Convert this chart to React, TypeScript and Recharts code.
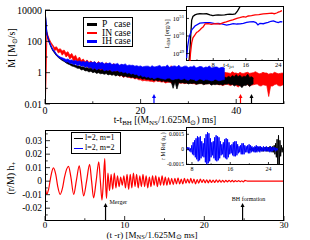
import React from "react";
import { ComposedChart, LineChart, Line, Area, XAxis, YAxis, Legend, ReferenceDot } from "recharts";

const W = 310;
const H = 240;
const SERIF = "'Liberation Serif', 'Times New Roman', Times, serif";
const AXIS_W = 30;
const AXIS_H = 14;

// ---- top panel: accretion rate onto the BH (upper / lower edge of the noisy trace),
// sampled every 0.4 from t - t_BH = 0
const mdotStep = 0.4;
const pHi = [
  10500, 300, 108, 54, 30, 20.5, 14, 10.8, 8.6, 7,
  6.2, 5.2, 4.6, 4.1, 3.6, 3.3, 3.0, 2.7, 2.7, 2.3,
  2.4, 2.0, 2.1, 1.8, 2.0, 1.6, 1.8, 1.5, 1.7, 1.4,
  1.6, 1.35, 1.6, 1.3, 1.45, 1.2, 1.4, 1.15, 1.3, 1.15,
  1.3, 1.05, 1.2, 1.0, 1.1, 0.95, 1.05, 0.85, 1.0, 0.8,
  0.95, 0.72, 0.85, 0.7, 0.8, 0.66, 0.75, 0.62, 0.72, 0.6,
  0.72, 0.58, 0.66, 0.56, 0.62, 0.54, 0.6, 0.5, 0.55, 0.48,
  0.58, 0.5, 0.55, 0.5, 0.58, 0.46, 0.52, 0.48, 0.55, 0.45,
  0.5, 0.47, 0.52, 0.44, 0.48, 0.46, 0.52, 0.42, 0.48, 0.45,
  0.52, 0.44, 0.5, 0.42, 0.52, 0.48, 0.58, 0.5, 0.65, 0.55,
  0.75, 0.55, 0.68, 0.5, 0.6, 0.55, 0.8, 0.5, 0.55, 0.45,
];
const pLo = [
  9000, 260, 92, 46, 26, 17.5, 12, 9.2, 7.4, 6,
  5.2, 4.2, 3.6, 3.2, 2.7, 2.5, 2.2, 1.9, 1.9, 1.5,
  1.6, 1.3, 1.35, 1.1, 1.25, 1.0, 1.1, 0.9, 1.0, 0.85,
  0.9, 0.78, 0.88, 0.72, 0.8, 0.68, 0.75, 0.62, 0.7, 0.62,
  0.68, 0.55, 0.62, 0.52, 0.56, 0.5, 0.52, 0.44, 0.5, 0.42,
  0.46, 0.38, 0.42, 0.36, 0.38, 0.34, 0.36, 0.3, 0.35, 0.29,
  0.33, 0.27, 0.3, 0.26, 0.28, 0.25, 0.26, 0.1, 0.25, 0.09,
  0.24, 0.22, 0.23, 0.21, 0.22, 0.19, 0.21, 0.2, 0.22, 0.18,
  0.19, 0.2, 0.2, 0.17, 0.19, 0.19, 0.2, 0.16, 0.18, 0.17,
  0.19, 0.17, 0.18, 0.16, 0.19, 0.18, 0.2, 0.17, 0.18, 0.14,
  0.17, 0.16, 0.15, 0.11, 0.16, 0.15, 0.18, 0.13, 0.17, 0.2,
];
const inHi = [
  0.002, 380, 165, 90, 60, 40, 45, 30, 34, 24,
  28, 18, 22, 13, 17, 10, 13, 7, 10, 6,
  7.5, 5, 6.5, 4.5, 5.5, 4.2, 5, 3.8, 5.2, 3.5,
  4, 3.4, 4.4, 3.1, 3.5, 3.0, 3.8, 2.8, 3.0, 2.6,
  3.3, 2.4, 2.7, 2.3, 2.4, 2.1, 2.7, 2.0, 2.2, 1.8,
  2.0, 1.7, 1.8, 1.6, 1.7, 1.5, 1.6, 1.4, 1.7, 1.4,
  1.5, 1.3, 1.5, 1.3, 1.35, 1.3, 2.8, 1.2, 1.3, 1.2,
  1.25, 1.15, 1.35, 1.1, 1.15, 1.2, 1.3, 1.1, 1.2, 1.05,
  1.1, 1.05, 1.25, 1.0, 1.0, 1.05, 1.15, 0.95, 1.05, 1.0,
  1.15, 0.95, 1.0, 0.9, 1.05, 1.0, 0.95, 0.9, 1.15, 0.95,
  0.95, 0.85, 1.05, 0.9, 0.9, 1.0, 1.05, 0.9, 0.95, 1.0,
  1.15, 1.0, 0.85, 0.9, 1.05, 0.95, 0.95, 0.8, 0.9, 0.85,
  1.05, 0.95, 0.85, 0.9, 0.95, 0.9,
];
const inLo = [
  0.001, 320, 135, 72, 48, 26, 30, 18, 22, 13,
  18, 10, 13, 7.5, 10, 5, 7, 4, 5.5, 3.2,
  3.5, 2.4, 2.8, 1.9, 2.2, 1.5, 1.8, 1.2, 1.6, 1.0,
  1.2, 1.0, 1.1, 0.85, 0.95, 0.8, 0.85, 0.7, 0.75, 0.6,
  0.65, 0.5, 0.58, 0.52, 0.5, 0.45, 0.48, 0.4, 0.42, 0.35,
  0.35, 0.3, 0.32, 0.3, 0.3, 0.28, 0.28, 0.25, 0.3, 0.28,
  0.27, 0.25, 0.26, 0.22, 0.24, 0.25, 0.22, 0.2, 0.23, 0.24,
  0.22, 0.21, 0.22, 0.2, 0.21, 0.23, 0.21, 0.2, 0.2, 0.18,
  0.2, 0.21, 0.2, 0.19, 0.19, 0.2, 0.2, 0.18, 0.19, 0.2,
  0.18, 0.17, 0.17, 0.15, 0.17, 0.19, 0.17, 0.15, 0.17, 0.18,
  0.15, 0.12, 0.15, 0.14, 0.16, 0.18, 0.17, 0.14, 0.16, 0.17,
  0.18, 0.19, 0.15, 0.14, 0.17, 0.16, 0.15, 0.03, 0.14, 0.14,
  0.17, 0.19, 0.15, 0.14, 0.16, 0.18,
];
const ihHi = [
  10500, 330, 120, 60, 33, 24, 15.5, 12, 10, 9,
  8, 7, 7.5, 6.2, 6.5, 5.6, 6, 5.2, 5.6, 4.8,
  5.2, 4.6, 5.6, 4.2, 4.8, 4.4, 5, 3.9, 4.4, 4.2,
  4.6, 3.6, 4.0, 3.8, 4.3, 3.3, 3.6, 3.5, 3.9, 3.0,
  3.4, 3.2, 3.6, 2.8, 3.1, 2.9, 3.0, 2.6, 2.8, 2.5,
  2.7, 2.3, 2.5, 2.6, 2.6, 2.2, 2.8, 2.3, 2.4, 2.6,
  2.9, 2.3, 2.5, 2.4, 3.1, 2.2, 2.4, 2.6, 2.7, 2.3,
  3.0, 2.2, 2.3, 2.6, 2.6, 2.1, 2.4, 2.3, 2.8, 2.0,
  2.2, 2.5, 2.4, 2.0, 2.3, 2.2, 2.7, 2.0, 2.1, 2.3,
  2.3, 1.9, 2.1, 2.2, 1.9,
];
const ihLo = [
  9000, 270, 100, 50, 27, 20, 13, 10, 8, 7,
  5.8, 4.6, 5, 3.8, 4, 3.2, 3.6, 2.8, 3.2, 2.6,
  2.8, 2.2, 2.6, 2.0, 2.3, 1.6, 2.0, 1.5, 1.8, 1.7,
  1.8, 1.3, 1.5, 1.4, 1.6, 1.2, 1.3, 1.3, 1.4, 1.1,
  1.2, 1.0, 1.1, 0.9, 1.0, 0.8, 0.9, 0.75, 0.8, 0.6,
  0.7, 0.55, 0.6, 0.5, 0.55, 0.45, 0.5, 0.4, 0.45, 0.5,
  0.45, 0.42, 0.4, 0.38, 0.44, 0.45, 0.38, 0.35, 0.4, 0.4,
  0.42, 0.36, 0.38, 0.42, 0.35, 0.33, 0.4, 0.38, 0.36, 0.3,
  0.34, 0.4, 0.36, 0.32, 0.36, 0.35, 0.33, 0.3, 0.32, 0.38,
  0.34, 0.3, 0.33, 0.35, 0.36,
];

const caseNames = ["P   case", "IN case", "IH case"];
const caseColors = ["#000000", "#ff0000", "#0000ff"];
// jet launch marks on the time axis (P, IN, IH)
const jetTimes = [43.2, 40.9, 22.8];

const timeTicks = [0, 10, 20, 30, 40, 50];
const timeLabels = ["0", null, "20", null, "40", null];
const mdotTicks = [0.01, 0.1, 1, 10, 100, 1000, 10000];
const mdotLabels = ["0.01", null, "1", null, "100", null, "10000"];

// ---- top inset: EM luminosity vs t - t_jet
const pJetT = [2.05, 2.3, 2.5, 2.7, 3.0, 3.5, 4.0, 4.7, 5.5, 6.4, 7.2, 7.9, 8.6, 9.2, 10.0, 10.8, 11.5, 12.1, 12.8, 13.4, 13.9, 14.3, 14.6, 15.0];
const pLem = [3.5e48, 2.0e49, 1.5e50, 8.1e50, 1.3e51, 1.6e51, 1.75e51, 1.85e51, 1.8e51, 1.85e51, 1.6e51, 1.45e51, 1.55e51, 1.6e51, 1.55e51, 1.6e51, 1.7e51, 1.75e51, 1.7e51, 1.8e51, 2.5e51, 3.6e51, 4.8e51, 7e51];
const inJetT = [2.2, 2.4, 2.7, 3.0, 3.5, 3.9, 4.3, 4.7, 5.1, 5.5, 6.0, 6.8, 7.5, 8.2, 8.9, 9.6, 10.5, 11.2, 12.1, 12.8, 13.8, 14.5, 15.4, 16.0, 16.6, 17.4, 18.3, 19.2, 20.3, 21.2, 22.4, 23.0, 23.6, 24.0, 24.4, 24.9];
const inLem = [2.0e48, 1.0e49, 4.0e49, 7.9e49, 1.15e50, 1.6e50, 1.8e50, 2.2e50, 2.75e50, 3.2e50, 4.9e50, 5.0e50, 4.6e50, 4.9e50, 5.0e50, 4.8e50, 5.75e50, 6.3e50, 7.4e50, 8.3e50, 1.02e51, 1.1e51, 1.26e51, 1.2e51, 1.38e51, 1.45e51, 1.58e51, 1.66e51, 1.82e51, 1.9e51, 2.0e51, 1.86e51, 2.04e51, 2.3e51, 2.45e51, 2.8e51];
const ihJetT = [1.45, 1.7, 2.1, 2.7, 3.5, 4.7, 6.0, 7.2, 8.4, 9.2, 10.1, 11.3, 12.2, 12.9, 13.8, 14.6, 15.4, 16.2, 17.0, 17.9, 18.5, 19.0, 19.5, 20.3, 21.0, 21.5, 22.2, 22.8, 23.4, 24.0, 24.5, 25.0];
const ihLem = [5.4e48, 2.45e49, 9.1e49, 2.2e50, 3.7e50, 5.4e50, 5.75e50, 5.75e50, 5.0e50, 5.25e50, 4.9e50, 4.2e50, 4.6e50, 5.0e50, 4.8e50, 4.9e50, 5.25e50, 5.9e50, 6.3e50, 6.6e50, 5.75e50, 4.3e50, 5.25e50, 5.0e50, 5.6e50, 6.0e50, 6.9e50, 7.2e50, 6.3e50, 5.75e50, 6.6e50, 6.3e50];

const jetTicks = [4, 8, 12, 16, 20, 24];
const jetLabels = [null, "8", null, "16", null, "24"];
const lemTicks = [1e49, 1e50, 1e51];
const lemExps = ["49", "50", "51"];

// ---- bottom panel: h+ strain, inspiral extrema then post-merger oscillation
const inspiralT = [0, 0.1, 0.25, 0.45, 0.75, 1.05, 1.35, 1.6, 1.9, 2.2, 2.45, 2.95, 3.25, 3.6, 3.95, 4.3, 4.58, 4.85, 5.22, 5.6, 5.85, 6.1, 6.42, 6.75, 6.95, 7.15, 7.33, 7.5, 7.6, 7.72];
const inspiralH = [-0.002, -0.007, -0.0095, -0.006, 0.004, 0.0098, 0.005, -0.004, -0.0098, -0.005, 0.003, 0.011, 0.003, -0.0098, 0.001, 0.0113, 0, -0.011, 0, 0.0124, 0, -0.0124, 0, 0.0143, 0, -0.014, 0, 0.0168, 0, -0.0128];
const ringStart = 7.9;
const ringStep = 0.2;
const ringH = [
  0.006, -0.007, 0.005, -0.006, 0.006, -0.005, 0.004, -0.004, 0.003, -0.003,
  0.004, -0.005, 0.005, -0.006, 0.005, -0.005, 0.006, -0.004, 0.005, -0.005,
  0.004, -0.004, 0.005, -0.004, 0.004, -0.005, 0.003, -0.004, 0.004, -0.003,
  0.004, -0.004, 0.003, -0.003, 0.004, -0.003, 0.003, -0.003, 0.0025, -0.0025,
  0.002, -0.0025, 0.002, -0.002, 0.0025, -0.002, 0.0015, -0.002, 0.002, -0.0015,
  0.0015, -0.0015, 0.002, -0.0015, 0.0015, -0.002, 0.0012, -0.0015, 0.0015, -0.001,
  0.0012, -0.0012, 0.001, -0.0012, 0.001, -0.001, 0.0008, -0.001, 0.001, -0.0008,
  0.0008, -0.0008, 0.0007, -0.0008, 0.0006, -0.0006, 0.0007, -0.0005, 0.0006, -0.0005,
  0.0005, -0.0004, 0.0005, -0.0004, 0.0003, -0.0005,
];
const tailT = [25.1, 25.4, 30];
const tailH = [0.0006, 0.0001, 0.0001];

const eventTimes = [7.6, 24.8];
const eventLabels = ["Merger", "BH formation"];

const gwTimeTicks = [0, 5, 10, 15, 20, 25, 30];
const gwTimeLabels = ["0", null, "10", null, "20", null, "30"];
const strainTicks = [-0.025, -0.02, -0.015, -0.01, -0.005, 0, 0.005, 0.01, 0.015, 0.02, 0.025, 0.03, 0.035];
const strainLabels = [null, "-0.02", null, "-0.01", null, "0", null, "0.01", null, "0.02", null, "0.03", null];
const strainDomain = [-0.0295, 0.0379];

// ---- bottom inset: Re(psi4) for the two modes
const modeNames = ["l=2, m=1", "l=2, m=2"];
const modeColors = ["#000000", "#0000ff"];
const psi22Start = 6.9;
const psi21Start = 20.1;
const psiStep = 0.15;
const psi22 = [
  0, 2e-4, -1e-4, 2e-4, -2e-4, 1e-4, -3e-4, 4e-4, -5e-4, 7e-4,
  -6e-4, 9e-4, -8e-4, 11e-4, -10e-4, 13e-4, -12e-4, 12e-4, -11e-4, 13e-4,
  -9e-4, 8e-4, -7e-4, 6e-4, -8e-4, 11e-4, -13e-4, 15e-4, -15e-4, 17e-4,
  -14e-4, 16e-4, -12e-4, 11e-4, -8e-4, 7e-4, -6e-4, 8e-4, -9e-4, 12e-4,
  -11e-4, 14e-4, -12e-4, 13e-4, -11e-4, 12e-4, -9e-4, 8e-4, -6e-4, 5e-4,
  -5e-4, 7e-4, -8e-4, 10e-4, -9e-4, 11e-4, -10e-4, 10e-4, -8e-4, 7e-4,
  -5e-4, 4e-4, -4e-4, 5e-4, -6e-4, 7e-4, -7e-4, 8e-4, -7e-4, 8e-4,
  -6e-4, 5e-4, -4e-4, 3e-4, -3e-4, 4e-4, -5e-4, 6e-4, -5e-4, 6e-4,
  -5e-4, 4e-4, -3e-4, 3e-4, -3e-4, 4e-4, -4e-4, 5e-4, -4e-4, 4e-4,
  -3e-4, 3e-4, -2e-4, 2e-4, -3e-4, 3e-4, -3e-4, 4e-4, -3e-4, 3e-4,
  -2e-4, 3e-4, -3e-4, 3e-4, -2e-4, 2e-4, -2e-4, 3e-4, -2e-4, 2e-4,
  -2e-4, 3e-4, -2e-4, 2e-4, -2e-4, 2e-4, -3e-4, 3e-4, -2e-4, 2e-4,
  -2e-4, 2e-4, -1e-4, 2e-4, -2e-4, 1e-4, -1e-4, 1e-4,
];
const psi21 = [
  1e-4, -1e-4, 2e-4, -1e-4, 1e-4, -2e-4, 1e-4, -1e-4, 2e-4, -2e-4,
  1e-4, -1e-4, 2e-4, -2e-4, 2e-4, -1e-4, 2e-4, -2e-4, 1e-4, -2e-4,
  2e-4, -1e-4, 2e-4, -2e-4, 2e-4, -2e-4, 2e-4, -2e-4, 3e-4, -2e-4,
  2e-4, -3e-4, 3e-4, -3e-4, 4e-4, -5e-4, 6e-4, -8e-4, 10e-4, -16e-4,
  14e-4, -22e-4, 9e-4, -7e-4, 4e-4, -3e-4, 2e-4,
];

const psiTimeTicks = [8, 12, 16, 20, 24];
const psiTimeLabels = ["8", null, "16", null, "24"];
const psiTicks = [-0.0015, 0, 0.0015];
const psiLabels = ["-0.0015", "0", "0.0015"];

// ---- layout (plot rectangles in page pixels)
type Rect = { left: number; top: number; right: number; bottom: number };
const topRect: Rect = { left: 45, top: 10, right: 284, bottom: 104 };
const lemRect: Rect = { left: 186, top: 6, right: 284, bottom: 61 };
const gwRect: Rect = { left: 45, top: 130, right: 284, bottom: 221 };
const psiRect: Rect = { left: 186, top: 127, right: 284, bottom: 165 };

function marginFor(r: Rect) {
  return { top: r.top, left: r.left - AXIS_W, right: W - r.right, bottom: H - r.bottom - AXIS_H };
}

function stepRows(start: number, step: number, values: number[]) {
  return values.map((v, i) => ({ t: start + i * step, v }));
}

function pairRows(ts: number[], vs: number[]) {
  return ts.map((t, i) => ({ t, v: vs[i] }));
}

const mdotRows = inHi.map((_, i) => ({
  t: i * mdotStep,
  pLo: pLo[i],
  pHi: pHi[i],
  inLo: inLo[i],
  inHi: inHi[i],
  ihLo: ihLo[i],
  ihHi: ihHi[i],
}));
const bandKeys = [
  ["pLo", "pHi"],
  ["inLo", "inHi"],
  ["ihLo", "ihHi"],
];

const strainRows = [
  ...pairRows(inspiralT, inspiralH),
  ...stepRows(ringStart, ringStep, ringH),
  ...pairRows(tailT, tailH),
];

function axisTick(
  side: "left" | "bottom",
  ticks: number[],
  labels: (string | null)[],
  gap: number,
  size: number,
  len: number,
  power = false,
) {
  return (props: any) => {
    const { x, y, payload } = props;
    const idx = ticks.indexOf(payload.value);
    const label = idx >= 0 ? labels[idx] : null;
    const l = label === null ? len * 0.55 : len;
    if (side === "left") {
      const ax = x + gap;
      return (
        <g>
          <line x1={ax} x2={ax + l} y1={y} y2={y} stroke="#000" strokeWidth={0.8} />
          {label !== null && (
            <text x={x} y={y} dy="0.35em" textAnchor="end" fontSize={size} fontFamily={SERIF} fill="#000">
              {power ? (
                <>
                  <tspan>10</tspan>
                  <tspan dy={-size * 0.45} fontSize={size * 0.72}>
                    {label}
                  </tspan>
                </>
              ) : (
                label
              )}
            </text>
          )}
        </g>
      );
    }
    const ay = y - gap;
    return (
      <g>
        <line x1={x} x2={x} y1={ay} y2={ay - l} stroke="#000" strokeWidth={0.8} />
        {label !== null && (
          <text x={x} y={y} dy="0.75em" textAnchor="middle" fontSize={size} fontFamily={SERIF} fill="#000">
            {label}
          </text>
        )}
      </g>
    );
  };
}

function arrowShape(color: string, len: number, label?: string, dx = 0, dy = 0) {
  return (p: any) => {
    const { cx, cy } = p;
    const tip = cy - len;
    return (
      <g>
        <line x1={cx} x2={cx} y1={cy} y2={tip + 3} stroke={color} strokeWidth={1.2} />
        <path d={`M${cx - 2},${tip + 4} L${cx},${tip} L${cx + 2},${tip + 4} Z`} fill={color} />
        {label && (
          <text x={cx + dx} y={tip + dy} fontSize={6} fontFamily={SERIF} fill="#000">
            {label}
          </text>
        )}
      </g>
    );
  };
}

const noAxisLine = { axisLine: false, tickLine: false, tickSize: 0, interval: 0 as const, allowDataOverflow: true };

function CaseLegend() {
  const order = [0, 1, 2];
  return (
    <div
      style={{
        border: "1px solid #000",
        background: "#fff",
        width: 50,
        height: 30,
        boxSizing: "border-box",
        padding: "2px 0 0 3px",
        fontFamily: SERIF,
        fontSize: 9.5,
      }}
    >
      {order.map((i) => (
        <div key={i} style={{ display: "flex", alignItems: "center", height: 8.6, lineHeight: "8.6px" }}>
          <span style={{ width: 10, height: 2.5, background: caseColors[i], marginRight: 5, flex: "none" }} />
          <span style={{ whiteSpace: "pre" }}>{caseNames[i]}</span>
        </div>
      ))}
    </div>
  );
}

function ModeLegend() {
  return (
    <div
      style={{
        border: "1px solid #000",
        background: "#fff",
        width: 50,
        height: 22,
        boxSizing: "border-box",
        padding: "0 0 0 2px",
        fontFamily: SERIF,
        fontSize: 8,
      }}
    >
      {modeNames.map((name, i) => (
        <div key={name} style={{ display: "flex", alignItems: "center", height: 10.2, lineHeight: "10px" }}>
          <span style={{ width: 9, height: 1, background: modeColors[i], marginRight: 2, flex: "none" }} />
          <span style={{ whiteSpace: "pre" }}>{name}</span>
        </div>
      ))}
    </div>
  );
}

function AccretionChart() {
  const seriesOrder = [1, 0, 2];
  return (
    <ComposedChart width={W} height={H} data={mdotRows} margin={marginFor(topRect)}>
      <XAxis
        type="number"
        dataKey="t"
        domain={[0, 50]}
        ticks={timeTicks}
        height={AXIS_H}
        tickMargin={2}
        tick={axisTick("bottom", timeTicks, timeLabels, 2, 10, 5)}
        {...noAxisLine}
      />
      <YAxis
        type="number"
        scale="log"
        domain={[0.01, 10000]}
        ticks={mdotTicks}
        width={AXIS_W}
        tickMargin={3}
        tick={axisTick("left", mdotTicks, mdotLabels, 3, 10, 5)}
        {...noAxisLine}
      />
      {seriesOrder.map((i) => {
        const [lo, hi] = bandKeys[i];
        return (
          <Area
            key={caseNames[i]}
            name={caseNames[i]}
            dataKey={(d: any) => (d[hi] === undefined ? null : [d[lo], d[hi]])}
            stroke={caseColors[i]}
            strokeWidth={0.7}
            fill={caseColors[i]}
            fillOpacity={1}
            type="linear"
            dot={false}
            activeDot={false}
            isAnimationActive={false}
          />
        );
      })}
      {jetTimes.map((t, i) => (
        <ReferenceDot key={t} x={t} y={0.01} r={0} ifOverflow="visible" shape={arrowShape(caseColors[i], 10)} />
      ))}
      <Legend
        layout="vertical"
        align="center"
        verticalAlign="middle"
        wrapperStyle={{ left: 83, top: 17, width: 50 }}
        content={() => <CaseLegend />}
      />
    </ComposedChart>
  );
}

function JetChart() {
  return (
    <LineChart width={W} height={H} margin={marginFor(lemRect)}>
      <XAxis
        type="number"
        dataKey="t"
        domain={[1.3, 25.4]}
        ticks={jetTicks}
        height={AXIS_H}
        tickMargin={1}
        tick={axisTick("bottom", jetTicks, jetLabels, 1, 6.5, 3)}
        {...noAxisLine}
      />
      <YAxis
        type="number"
        scale="log"
        domain={[3.72e48, 5.13e51]}
        ticks={lemTicks}
        width={AXIS_W}
        tickMargin={2}
        tick={axisTick("left", lemTicks, lemExps, 2, 6.5, 3, true)}
        {...noAxisLine}
      />
      <Line data={pairRows(pJetT, pLem)} dataKey="v" stroke={caseColors[0]} strokeWidth={1.3} dot={false} isAnimationActive={false} />
      <Line data={pairRows(ihJetT, ihLem)} dataKey="v" stroke={caseColors[2]} strokeWidth={1.3} dot={false} isAnimationActive={false} />
      <Line data={pairRows(inJetT, inLem)} dataKey="v" stroke={caseColors[1]} strokeWidth={1.3} dot={false} isAnimationActive={false} />
    </LineChart>
  );
}

function StrainChart() {
  const textDx = [4, -10.7];
  const textDy = [1, -2];
  return (
    <LineChart width={W} height={H} margin={marginFor(gwRect)}>
      <XAxis
        type="number"
        dataKey="t"
        domain={[0, 30]}
        ticks={gwTimeTicks}
        height={AXIS_H}
        tickMargin={0.5}
        tick={axisTick("bottom", gwTimeTicks, gwTimeLabels, 0.5, 9, 5)}
        {...noAxisLine}
      />
      <YAxis
        type="number"
        domain={strainDomain}
        ticks={strainTicks}
        width={AXIS_W}
        tickMargin={3}
        tick={axisTick("left", strainTicks, strainLabels, 3, 9.5, 5)}
        {...noAxisLine}
      />
      <Line
        data={strainRows}
        dataKey="v"
        stroke="#ff0000"
        strokeWidth={1.2}
        dot={false}
        type="monotone"
        isAnimationActive={false}
      />
      {eventTimes.map((t, i) => (
        <ReferenceDot
          key={t}
          x={t}
          y={strainDomain[0]}
          r={0}
          ifOverflow="visible"
          shape={arrowShape("#000", 18, eventLabels[i], textDx[i], textDy[i])}
        />
      ))}
      <Legend
        layout="vertical"
        align="center"
        verticalAlign="middle"
        wrapperStyle={{ left: 71, top: 132, width: 50 }}
        content={() => <ModeLegend />}
      />
    </LineChart>
  );
}

function Psi4Chart() {
  return (
    <LineChart width={W} height={H} margin={marginFor(psiRect)}>
      <XAxis
        type="number"
        dataKey="t"
        domain={[6.75, 27.25]}
        ticks={psiTimeTicks}
        height={AXIS_H}
        tickMargin={1}
        tick={axisTick("bottom", psiTimeTicks, psiTimeLabels, 1, 6, 3)}
        {...noAxisLine}
      />
      <YAxis
        type="number"
        domain={[-0.00157, 0.00223]}
        ticks={psiTicks}
        width={AXIS_W}
        tickMargin={2}
        tick={axisTick("left", psiTicks, psiLabels, 2, 5.5, 3)}
        {...noAxisLine}
      />
      <Line data={stepRows(psi21Start, psiStep, psi21)} dataKey="v" stroke={modeColors[0]} strokeWidth={1} dot={false} isAnimationActive={false} />
      <Line data={stepRows(psi22Start, psiStep, psi22)} dataKey="v" stroke={modeColors[1]} strokeWidth={1} dot={false} isAnimationActive={false} />
    </LineChart>
  );
}

function Frame({ rect, fill }: { rect: Rect; fill?: string }) {
  return (
    <div
      style={{
        position: "absolute",
        left: rect.left,
        top: rect.top,
        width: rect.right - rect.left,
        height: rect.bottom - rect.top,
        border: "1px solid #000",
        boxSizing: "border-box",
        background: fill ?? "transparent",
      }}
    />
  );
}

function Layer({ children }: { children: React.ReactNode }) {
  return <div style={{ position: "absolute", left: 0, top: 0 }}>{children}</div>;
}

function Titles() {
  return (
    <svg width={W} height={H} style={{ position: "absolute", left: 0, top: 0 }} fontFamily={SERIF} fill="#000">
      <text transform="translate(14.5,48) rotate(-90)" textAnchor="middle" fontSize={10}>
        Ṁ [M<tspan fontSize={7} dy={2.5}>⊙</tspan>
        <tspan dy={-2.5}>/s]</tspan>
      </text>
      <text x={165} y={122.5} textAnchor="middle" fontSize={9.5}>
        t-t<tspan fontSize={7} dy={2.5}>BH</tspan>
        <tspan dy={-2.5}> [(M</tspan>
        <tspan fontSize={7} dy={2.5}>NS</tspan>
        <tspan dy={-2.5}>/1.625M</tspan>
        <tspan fontSize={7} dy={2.5}>⊙</tspan>
        <tspan dy={-2.5}>) ms]</tspan>
      </text>
      <text transform="translate(13.5,178) rotate(-90)" textAnchor="middle" fontSize={10}>
        (r/M) h<tspan fontSize={7} dy={2.5}>+</tspan>
      </text>
      <text x={152} y={237.5} textAnchor="middle" fontSize={9}>
        (t -r) [M<tspan fontSize={6.5} dy={1.2}>NS</tspan>
        <tspan dy={-1.2}>/1.625M</tspan>
        <tspan fontSize={6.5} dy={1.2}>⊙</tspan>
        <tspan dy={-1.2}> ms]</tspan>
      </text>
      <text transform="translate(168.8,34) rotate(-90)" textAnchor="middle" fontSize={6.5}>
        L<tspan fontSize={4.5} dy={1.5}>EM</tspan>
        <tspan dy={-1.5}> [erg/s]</tspan>
      </text>
      <text x={228.5} y={66.5} textAnchor="middle" fontSize={6.5}>
        t-t<tspan fontSize={4.5} dy={1.5}>jet</tspan>
      </text>
      <text transform="translate(164.5,146) rotate(-90)" textAnchor="middle" fontSize={5.5}>
        r M Re( ψ<tspan fontSize={4} dy={1.2}>4</tspan>
        <tspan dy={-1.2}> )</tspan>
      </text>
    </svg>
  );
}

export default function App() {
  return (
    <div
      style={{
        position: "fixed",
        left: 0,
        top: 0,
        width: W,
        height: H,
        background: "#fff",
        overflow: "hidden",
        fontFamily: SERIF,
      }}
    >
      <Layer>
        <AccretionChart />
      </Layer>
      <Frame rect={topRect} />
      <Frame rect={lemRect} fill="#fff" />
      <Layer>
        <JetChart />
      </Layer>
      <Layer>
        <StrainChart />
      </Layer>
      <Frame rect={gwRect} />
      <Frame rect={psiRect} fill="#fff" />
      <Layer>
        <Psi4Chart />
      </Layer>
      <Titles />
    </div>
  );
}
